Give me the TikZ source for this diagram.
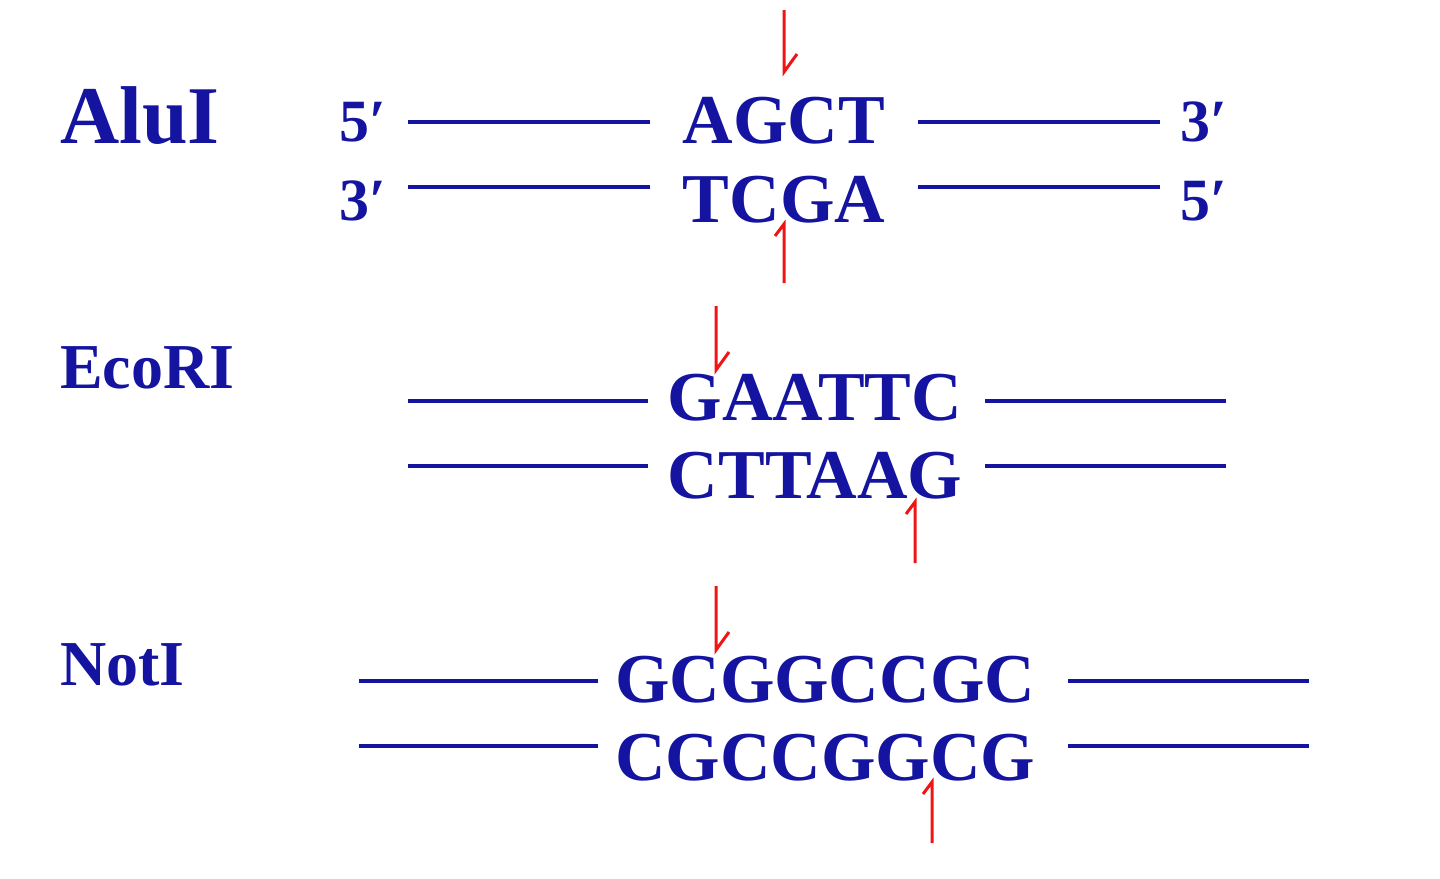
\documentclass[tikz,border=0pt]{standalone}
\usepackage{fontspec}
\setmainfont{Liberation Serif}
\definecolor{dna}{RGB}{20,20,160}
\definecolor{cut}{RGB}{240,20,20}
\begin{document}
\begin{tikzpicture}[x=1pt,y=-1pt,
  seq/.style={text=dna,font=\bfseries\fontsize{70}{74}\selectfont,anchor=base,inner sep=0},
  lbl/.style={text=dna,font=\bfseries\fontsize{64}{68}\selectfont,anchor=base west,inner sep=0},
  end/.style={text=dna,font=\bfseries\fontsize{60}{64}\selectfont,anchor=base,inner sep=0},
  strand/.style={draw=dna,line width=3.5pt},
  cutl/.style={draw=cut,line width=3pt}]
\useasboundingbox (0,0) rectangle (1440,878);
% AluI
\node[lbl,font=\bfseries\fontsize{82}{86}\selectfont] (l1) at (60,143) {AluI};
\node[end] (e1) at (363,141) {5′};
\node[end] (e2) at (363,220) {3′};
\node[end] (e3) at (1204,141) {3′};
\node[end] (e4) at (1204,220) {5′};
\node[seq] (s1) at (784,143) {AGCT};
\node[seq] (s2) at (784,222) {TCGA};
\coordinate (a1) at (408,122); \coordinate (a2) at (650,122);
\coordinate (a3) at (918,122); \coordinate (a4) at (1160,122);
\coordinate (a5) at (408,187); \coordinate (a6) at (650,187);
\coordinate (a7) at (918,187); \coordinate (a8) at (1160,187);
\draw[strand] (a1)--(a2) (a3)--(a4) (a5)--(a6) (a7)--(a8);
\draw[cutl] (784,10)--(784,72)--(797,54);
\draw[cutl] (784,283)--(784,224)--(775,236);
% EcoRI
\node[lbl] (l2) at (60,388) {EcoRI};
\node[seq] (s3) at (815,420) {GAATTC};
\node[seq] (s4) at (815,498) {CTTAAG};
\coordinate (b1) at (408,401); \coordinate (b2) at (648,401);
\coordinate (b3) at (985,401); \coordinate (b4) at (1226,401);
\coordinate (b5) at (408,466); \coordinate (b6) at (648,466);
\coordinate (b7) at (985,466); \coordinate (b8) at (1226,466);
\draw[strand] (b1)--(b2) (b3)--(b4) (b5)--(b6) (b7)--(b8);
\draw[cutl] (716,306)--(716,370)--(729,352);
\draw[cutl] (915,563)--(915,502)--(906,514);
% NotI
\node[lbl] (l3) at (60,685) {NotI};
\node[seq] (s5) at (825,702) {GCGGCCGC};
\node[seq] (s6) at (825,780) {CGCCGGCG};
\coordinate (c1) at (359,681); \coordinate (c2) at (598,681);
\coordinate (c3) at (1068,681); \coordinate (c4) at (1309,681);
\coordinate (c5) at (359,746); \coordinate (c6) at (598,746);
\coordinate (c7) at (1068,746); \coordinate (c8) at (1309,746);
\draw[strand] (c1)--(c2) (c3)--(c4) (c5)--(c6) (c7)--(c8);
\draw[cutl] (716,586)--(716,650)--(729,632);
\draw[cutl] (932,843)--(932,782)--(923,794);
\end{tikzpicture}
\end{document}
